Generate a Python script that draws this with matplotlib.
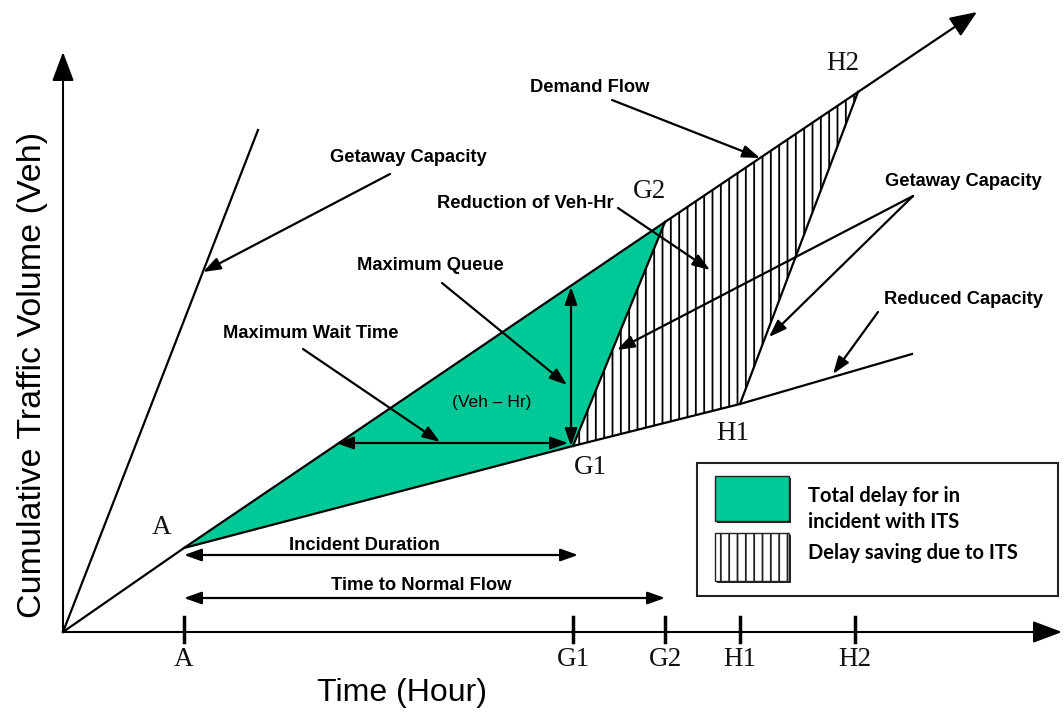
import matplotlib
matplotlib.use("Agg")
import matplotlib.pyplot as plt
from matplotlib.patches import Polygon, Rectangle

# ---- diagram values (time units, vehicle units) ----
point_names = ["A", "G1", "G2", "H1", "H2"]
point_time = [121, 510, 602, 677, 795]
point_volume = [84, 186, 410, 228, 540]

tick_time = [121, 510, 602, 677, 792]
tick_labels = ["A", "G1", "G2", "H1", "H2"]

demand_end = (914, 620)          # demand flow continues past H2
getaway_end = (195, 502)         # getaway capacity from origin
reduced_end = (849, 278)         # reduced capacity continues past H1

max_queue_time = 508
max_queue_range = (186, 345)
max_wait_volume = 189
max_wait_range = (273, 505)
incident_duration = (121, 515)
normal_flow_time = (121, 602)

GREEN = "#00C896"
pts = {n: (t, v) for n, t, v in zip(point_names, point_time, point_volume)}

plt.rcParams["hatch.linewidth"] = 1.3
fig = plt.figure(figsize=(10.64, 7.13), dpi=100)
ax = fig.add_axes([0, 0, 1, 1])
ax.set_xlim(-63, 1001)
ax.set_ylim(-81, 632)
ax.axis("off")

LW = 1.6
bold = dict(family="Liberation Sans", fontweight="bold", fontsize=13.2, color="black")
serif = dict(family="Liberation Serif", fontsize=19.5, color="#111111")


def arrow(p0, p1, style="-|>", lw=LW, hl=0.7, hw=0.25, ms=15):
    ax.annotate("", xy=p1, xytext=p0,
                arrowprops=dict(arrowstyle=f"{style},head_length={hl},head_width={hw}",
                                mutation_scale=ms, lw=lw, color="black",
                                shrinkA=0, shrinkB=0))


# shaded regions
ax.add_patch(Polygon([pts["A"], pts["G2"], pts["G1"]], closed=True,
                     facecolor=GREEN, edgecolor="none", zorder=1))
ax.add_patch(Polygon([pts["G1"], pts["G2"], pts["H2"], pts["H1"]], closed=True,
                     facecolor="white", edgecolor="black", hatch="||", lw=0, zorder=1))

# axes with arrow heads
arrow((0, 0), (0, 580), lw=1.5, hl=1.2, hw=0.45, ms=15)
arrow((0, 0), (999, 0), lw=1.5, hl=1.2, hw=0.45, ms=15)

# flow lines
ax.plot([0, getaway_end[0]], [0, getaway_end[1]], color="black", lw=LW, zorder=3)
ax.plot([0, pts["A"][0], pts["G2"][0], pts["H2"][0]],
        [0, pts["A"][1], pts["G2"][1], pts["H2"][1]], color="black", lw=LW, zorder=3)
arrow(pts["H2"], demand_end, hl=1.1, hw=0.45, ms=15)
ax.plot([pts["A"][0], pts["G1"][0], pts["H1"][0], reduced_end[0]],
        [pts["A"][1], pts["G1"][1], pts["H1"][1], reduced_end[1]], color="black", lw=LW, zorder=3)
ax.plot([pts["G1"][0], pts["G2"][0]], [pts["G1"][1], pts["G2"][1]], color="black", lw=LW, zorder=3)
ax.plot([pts["H1"][0], pts["H2"][0]], [pts["H1"][1], pts["H2"][1]], color="black", lw=LW, zorder=3)

# ticks on time axis
for t, lab in zip(tick_time, tick_labels):
    ax.plot([t, t], [-10, 15], color="black", lw=2.5, zorder=3)
    ax.text(t, -28, lab, ha="center", va="center", **serif)

# point labels
label_pos = {"A": (99, 104), "G1": (527, 164), "G2": (586, 440),
             "H1": (670, 199), "H2": (780, 569)}
for n, (x, y) in label_pos.items():
    ax.text(x, y, n, ha="center", va="center", **serif)

# dimension arrows
arrow((max_queue_time, max_queue_range[0]), (max_queue_time, max_queue_range[1]), style="<|-|>")
arrow((max_wait_range[0], max_wait_volume), (max_wait_range[1], max_wait_volume), style="<|-|>")
arrow((incident_duration[0], 77), (incident_duration[1], 77), style="<|-|>")
arrow((normal_flow_time[0], 34), (normal_flow_time[1], 34), style="<|-|>")
ax.text(301, 86, "Incident Duration", ha="center", va="center", **bold)
ax.text(358, 46, "Time to Normal Flow", ha="center", va="center", **bold)
ax.text(429, 230, "(Veh – Hr)", ha="center", va="center",
        family="Liberation Sans", fontsize=12.5)

# callouts
callouts = [
    ("Getaway Capacity", (345, 474), (327, 458), (140, 360)),
    ("Demand Flow", (527, 545), (549, 532), (697, 474)),
    ("Reduction of Veh-Hr", (462, 428), (555, 424), (647, 362)),
    ("Maximum Queue", (367, 367), (379, 349), (504, 247)),
    ("Maximum Wait Time", (248, 299), (240, 283), (377, 190)),
    ("Reduced Capacity", (900, 333), (815, 320), (770, 258)),
]
for text, tpos, start, end in callouts:
    ax.text(*tpos, text, ha="center", va="center", **bold)
    arrow(start, end)

ax.text(900, 450, "Getaway Capacity", ha="center", va="center", **bold)
arrow((850, 436), (554, 282))
arrow((850, 436), (706, 295))

# key
ax.add_patch(Rectangle((634, 36), 361, 133, facecolor="white", edgecolor="#222222",
                       lw=1.5, zorder=4))
ax.add_patch(Rectangle((654, 109), 74, 45, facecolor="#222222", edgecolor="none", zorder=4))
ax.add_patch(Rectangle((652, 111), 74, 45, facecolor=GREEN, edgecolor="#222222",
                       lw=1.0, zorder=5))
ax.add_patch(Rectangle((654, 49), 74, 48, facecolor="#222222", edgecolor="none", zorder=4))
ax.add_patch(Rectangle((652, 51), 74, 48, facecolor="white", edgecolor="#222222",
                       hatch="||", lw=1.0, zorder=5))
key = dict(family="Lato", fontweight="bold", fontsize=14.5, color="black", zorder=6)
ax.text(745, 136, "Total delay for in", ha="left", va="center", **key)
ax.text(745, 110, "incident with ITS", ha="left", va="center", **key)
ax.text(745, 79, "Delay saving due to ITS", ha="left", va="center", **key)

# axis titles
ax.text(339, -61, "Time (Hour)", ha="center", va="center",
        family="Liberation Sans", fontsize=23)
ax.text(-30, 257, "Cumulative Traffic Volume (Veh)", ha="center", va="center",
        rotation=90, family="Liberation Sans", fontsize=24.5)

fig.savefig("out.png", dpi=100, facecolor="white")
